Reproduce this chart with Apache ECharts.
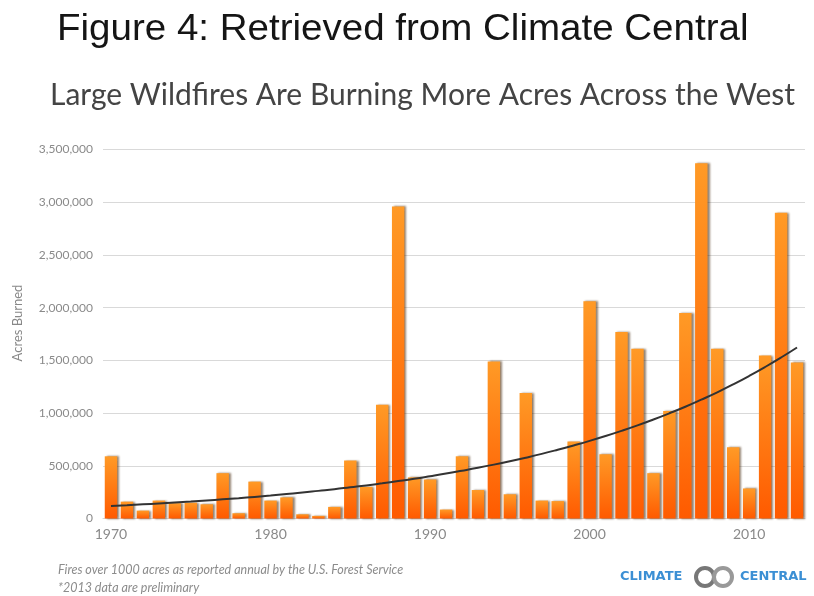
<!DOCTYPE html>
<html>
<head>
<meta charset="utf-8">
<script src="https://cdn.jsdelivr.net/npm/echarts@6/dist/echarts.min.js"></script>
<style>
html,body{margin:0;padding:0;background:#fff;}
#c{width:814px;height:596px;}
</style>
</head>
<body>
<div id="c"></div>
<script>
const years = ['1970','1971','1972','1973','1974','1975','1976','1977','1978','1979',
  '1980','1981','1982','1983','1984','1985','1986','1987','1988','1989',
  '1990','1991','1992','1993','1994','1995','1996','1997','1998','1999',
  '2000','2001','2002','2003','2004','2005','2006','2007','2008','2009',
  '2010','2011','2012','2013'];
const acresBurned = [590000,160000,75000,170000,145000,150000,135000,430000,50000,350000,
  170000,200000,40000,25000,110000,550000,300000,1080000,2960000,390000,
  370000,85000,590000,270000,1490000,230000,1190000,170000,165000,730000,
  2060000,610000,1770000,1610000,430000,1020000,1950000,3370000,1610000,675000,
  285000,1545000,2900000,1480000];
const trendLine = [119000,126000,134000,143000,152000,161000,171000,182000,193000,205000,
  218000,232000,246000,262000,278000,296000,314000,334000,355000,377000,
  401000,426000,453000,481000,511000,543000,577000,613000,652000,693000,
  736000,782000,831000,883000,939000,998000,1060000,1127000,1197000,1272000,
  1352000,1437000,1527000,1622000];
const xTickLabels = ['1970','1980','1990','2000','2010'];

const chart = echarts.init(document.getElementById('c'));
chart.setOption({
  backgroundColor: '#ffffff',
  animation: false,
  grid: {left: 103, right: 9, top: 149.5, bottom: 77.5, containLabel: false},
  xAxis: {
    type: 'category', data: years, boundaryGap: true,
    axisLine: {show: true, lineStyle: {color: '#d6d6d6', width: 1}},
    axisTick: {show: false},
    axisLabel: {
      interval: function (i, v) { return xTickLabels.indexOf(v) >= 0; },
      color: '#8a8a8a', fontFamily: 'Lato', fontWeight: 'normal', fontSize: 14, margin: 9
    }
  },
  yAxis: {
    type: 'value', min: 0, max: 3500000, interval: 500000,
    axisLine: {show: false}, axisTick: {show: false},
    splitLine: {lineStyle: {color: '#d9d9d9', width: 1}},
    axisLabel: {
      color: '#8a8a8a', fontFamily: 'Lato', fontSize: 12, margin: 10,
      letterSpacing: -0.7,
      formatter: function (v) { return v.toLocaleString('en-US'); }
    }
  },
  series: [
    {
      type: 'bar', data: acresBurned, barCategoryGap: '22%',
      itemStyle: {
        color: new echarts.graphic.LinearGradient(0, 0, 0, 1, [
          {offset: 0, color: '#ff9a26'},
          {offset: 1, color: '#ff5a00'}
        ]),
        shadowColor: 'rgba(60,30,0,0.55)', shadowOffsetX: 2, shadowOffsetY: 0, shadowBlur: 2
      },
      z: 2
    },
    {
      type: 'line', data: trendLine, smooth: true, showSymbol: false, symbol: 'none',
      lineStyle: {color: '#333', width: 2}, z: 5
    }
  ],
  graphic: [
    {type: 'text', x: 57, y: 12, scaleX: 1.07, scaleY: 1,
     style: {text: 'Figure 4: Retrieved from Climate Central', fill: '#151515',
             font: '36px "Liberation Sans", Arial', align: 'left', verticalAlign: 'top'}},
    {type: 'text', x: 50, y: 80,
     style: {text: 'Large Wildfires Are Burning More Acres Across the West', fill: '#444',
             font: '30px Lato', align: 'left', verticalAlign: 'top'}},
    {type: 'text', x: 18, y: 323, rotation: Math.PI / 2,
     style: {text: 'Acres Burned', fill: '#888', font: '13px Lato', align: 'center', verticalAlign: 'middle'}},
    {type: 'text', x: 58, y: 563,
     style: {text: 'Fires over 1000 acres as reported annual by the U.S. Forest Service', fill: '#8c8c8c',
             font: 'italic 12.5px Lato', align: 'left', verticalAlign: 'top'}},
    {type: 'text', x: 58, y: 581,
     style: {text: '*2013 data are preliminary', fill: '#8c8c8c', font: 'italic 12.5px Lato', align: 'left', verticalAlign: 'top'}},
    {type: 'text', x: 620, y: 570,
     style: {text: 'CLIMATE', fill: '#3b8fd4', font: 'bold 13px "DejaVu Sans"', align: 'left', verticalAlign: 'top', letterSpacing: 0.5}},
    {type: 'circle', shape: {cx: 705, cy: 577, r: 9}, style: {fill: 'none', stroke: '#777', lineWidth: 4}},
    {type: 'circle', shape: {cx: 723, cy: 577, r: 9}, style: {fill: 'none', stroke: '#999', lineWidth: 4}},
    {type: 'text', x: 740, y: 570,
     style: {text: 'CENTRAL', fill: '#3b8fd4', font: 'bold 13px "DejaVu Sans"', align: 'left', verticalAlign: 'top', letterSpacing: 0.5}}
  ]
});
</script>
</body>
</html>
